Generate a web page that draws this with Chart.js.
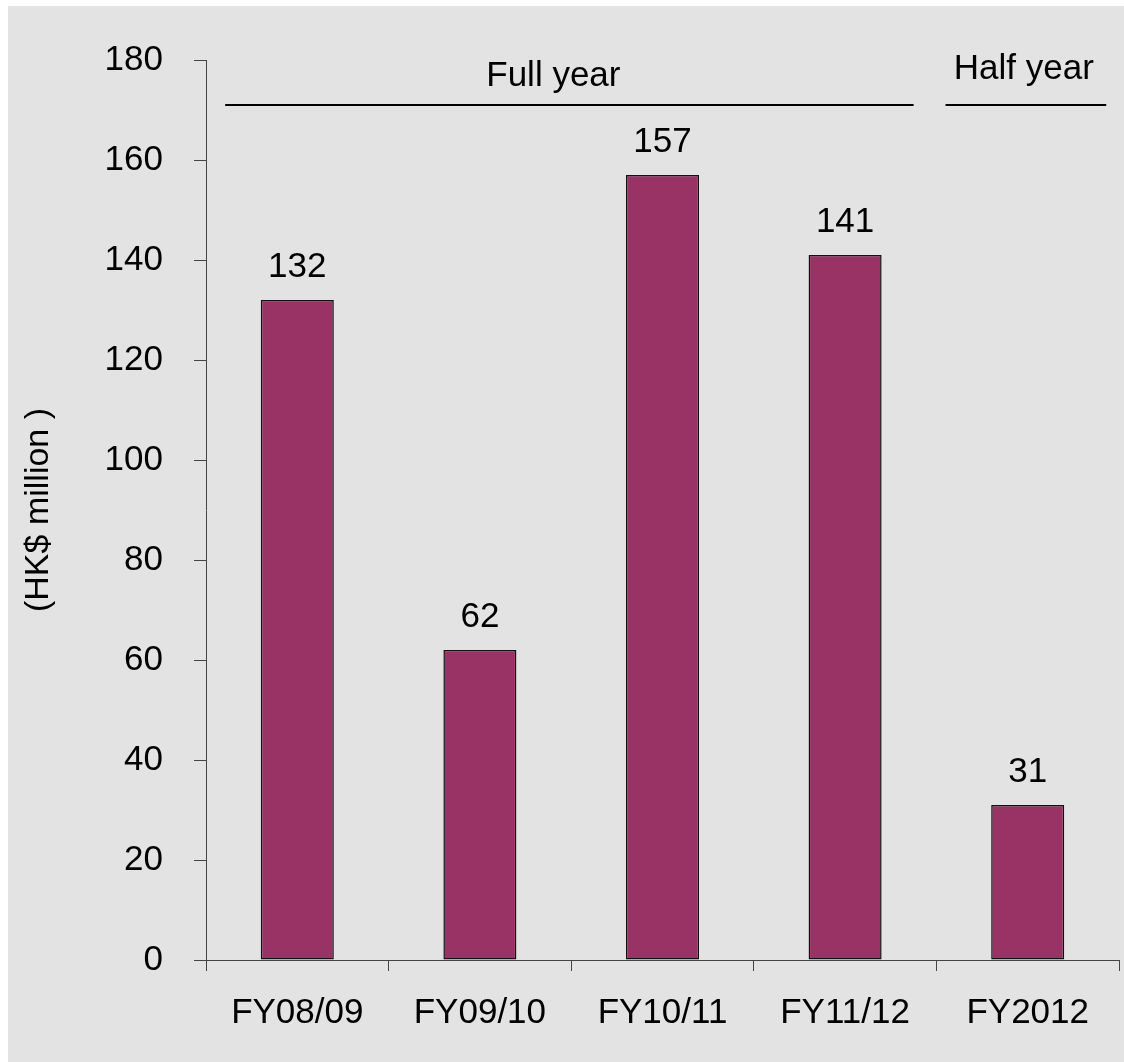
<!DOCTYPE html>
<html>
<head>
<meta charset="utf-8">
<script src="https://cdn.jsdelivr.net/npm/chart.js@4/dist/chart.umd.min.js"></script>
<style>
    html, body { margin: 0; padding: 0; background: #ffffff; overflow: hidden; }
    #panel {
        position: absolute; left: 8px; top: 6px;
        width: 1116px; height: 1056px; background: #e3e3e3;
    }
</style>
</head>
<body>
<div id="panel"><canvas id="chart" width="1116" height="1056"></canvas></div>
<script>
// --- Datos ---
const categories = ['FY08/09', 'FY09/10', 'FY10/11', 'FY11/12', 'FY2012'];
const profit = [132, 62, 157, 141, 31];
const yTicks = [0, 20, 40, 60, 80, 100, 120, 140, 160, 180];

// grupos de encabezado (indices de categoria)
const groupNames = ['Full year', 'Half year'];
const groupFirst = [0, 4];
const groupLast = [3, 4];

const FONT = "'Liberation Sans', Arial, sans-serif";

// etiquetas de valor encima de cada barra
const valueLabels = {
    id: 'valueLabels',
    afterDatasetsDraw(chart) {
        const ctx = chart.ctx;
        const meta = chart.getDatasetMeta(0);
        ctx.save();
        ctx.fillStyle = '#000';
        ctx.font = '35px ' + FONT;
        ctx.textAlign = 'center';
        ctx.textBaseline = 'alphabetic';
        meta.data.forEach((bar, i) => {
            ctx.fillText(String(profit[i]), bar.x, bar.y - 23);
        });
        ctx.restore();
    }
};

// lineas "Full year" / "Half year"
const groupHeaders = {
    id: 'groupHeaders',
    afterDraw(chart) {
        const ctx = chart.ctx;
        const x = chart.scales.x;
        const top = chart.chartArea.top;
        const step = x.getPixelForValue(1) - x.getPixelForValue(0);
        const insetL = [0.21, 0.1];
        const insetR = [0.25, 0.14];
        const textDx = [-16, -2];
        const textY = [26, 19];
        ctx.save();
        ctx.strokeStyle = '#000';
        ctx.lineWidth = 2;
        ctx.fillStyle = '#000';
        ctx.font = '35px ' + FONT;
        ctx.textAlign = 'center';
        ctx.textBaseline = 'alphabetic';
        groupNames.forEach((name, g) => {
            const x0 = x.getPixelForValue(groupFirst[g]) - step / 2 + insetL[g] * step / 2;
            const x1 = x.getPixelForValue(groupLast[g]) + step / 2 - insetR[g] * step / 2;
            const ly = top + 45;
            ctx.beginPath();
            ctx.moveTo(x0, ly);
            ctx.lineTo(x1, ly);
            ctx.stroke();
            ctx.fillText(name, (x0 + x1) / 2 + textDx[g], top + textY[g]);
        });
        ctx.restore();
    }
};

new Chart(document.getElementById('chart'), {
    type: 'bar',
    data: {
        labels: categories,
        datasets: [{
            data: profit,
            backgroundColor: '#993366',
            borderColor: '#111',
            borderWidth: 1.5,
            borderSkipped: false,
            barPercentage: 0.4,
            categoryPercentage: 1
        }]
    },
    options: {
        responsive: false,
        animation: false,
        events: [],
        layout: { padding: { top: 54, right: 5, left: 0, bottom: 0 } },
        plugins: {
            legend: { display: false },
            tooltip: { enabled: false }
        },
        scales: {
            x: {
                offset: true,
                grid: {
                    offset: true,
                    drawOnChartArea: false,
                    drawTicks: true,
                    tickLength: 11,
                    color: '#444'
                },
                border: { display: true, color: '#444', width: 1 },
                ticks: {
                    color: '#000',
                    font: { family: FONT, size: 35 },
                    padding: 21,
                    maxRotation: 0,
                    autoSkip: false
                },
                afterFit(scale) { scale.height = 102; }
            },
            y: {
                min: 0,
                max: 180,
                afterBuildTicks(scale) { scale.ticks = yTicks.map(v => ({ value: v })); },
                grid: {
                    drawOnChartArea: false,
                    drawTicks: true,
                    tickLength: 12,
                    color: '#444'
                },
                border: { display: true, color: '#444', width: 1 },
                ticks: {
                    color: '#000',
                    font: { family: FONT, size: 35 },
                    padding: 31
                },
                title: {
                    display: true,
                    text: '(HK$ million )',
                    color: '#000',
                    font: { family: FONT, size: 34 },
                    padding: { top: 10, bottom: 0 }
                },
                afterFit(scale) { scale.width = 198; }
            }
        }
    },
    plugins: [valueLabels, groupHeaders]
});
</script>
</body>
</html>
